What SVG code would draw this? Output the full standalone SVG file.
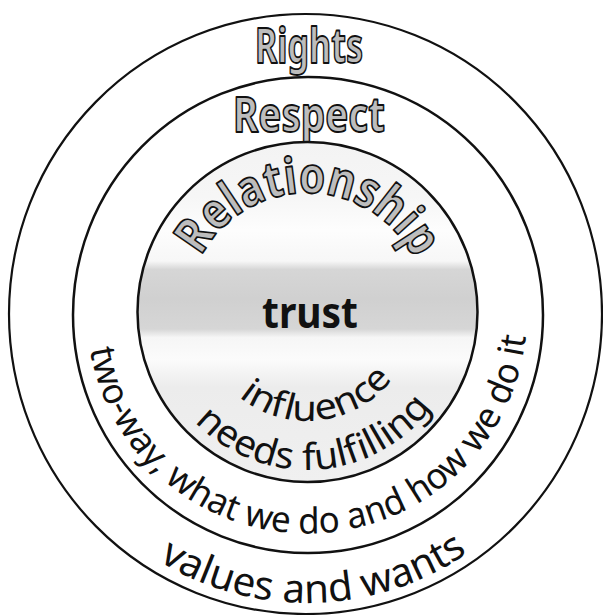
<svg xmlns="http://www.w3.org/2000/svg" width="603" height="615" viewBox="0 0 603 615">
  <style>
    .ring { fill: none; stroke: #111; }
    .hollow { font-family: "Noto Sans", "DejaVu Sans", sans-serif; font-weight: 700; fill: #bdbdbd; stroke: #111; stroke-width: 1.8; stroke-linejoin: round; }
    .label { font-family: "Noto Sans", "DejaVu Sans", sans-serif; fill: #111; }
    .solid { font-family: "Noto Sans", "DejaVu Sans", sans-serif; font-weight: 700; fill: #111; }
  </style>
  <defs>
    <linearGradient id="innerFill" x1="0" y1="0" x2="0" y2="1">
      <stop offset="0" stop-color="#f3f3f3"/>
      <stop offset="0.16" stop-color="#f6f6f6"/>
      <stop offset="0.26" stop-color="#fdfdfd"/>
      <stop offset="0.35" stop-color="#f7f7f7"/>
      <stop offset="0.375" stop-color="#d6d6d6"/>
      <stop offset="0.46" stop-color="#d0d0d0"/>
      <stop offset="0.55" stop-color="#d6d6d6"/>
      <stop offset="0.575" stop-color="#f6f6f6"/>
      <stop offset="0.64" stop-color="#fbfbfb"/>
      <stop offset="0.72" stop-color="#ececec"/>
      <stop offset="1" stop-color="#f0f0f0"/>
    </linearGradient>
    <!-- baselines for the curved labels -->
    <path id="arcRelationship" d="M194.2,272 A120,120 0 0 1 419.8,272"/>
    <path id="arcInfluence" d="M213.5,367 A108,108 0 0 0 400.5,367"/>
    <path id="arcNeeds" d="M172.8,392.5 A155,155 0 0 0 441.2,392.5"/>
    <path id="arcTwoWay" d="M87.8,294.8 A220,220 0 1 0 526.2,294.8"/>
    <path id="arcValues" d="M90.2,501.9 A283,283 0 0 0 523.8,501.9"/>
  </defs>

  <rect width="603" height="615" fill="#ffffff"/>

  <!-- outer ring -->
  <g id="rights">
    <ellipse class="ring" cx="305.5" cy="314" rx="296.5" ry="300" stroke-width="2.2"/>
    <text class="hollow" x="309" y="63" font-size="49" text-anchor="middle" textLength="108" lengthAdjust="spacingAndGlyphs">Rights</text>
    <text class="label" font-size="40">
      <textPath href="#arcValues" startOffset="51.5%" text-anchor="middle" textLength="327" lengthAdjust="spacingAndGlyphs">values and wants</textPath>
    </text>
  </g>

  <!-- middle ring -->
  <g id="respect">
    <ellipse class="ring" cx="308" cy="315" rx="235" ry="238" stroke-width="2.5" fill="#ffffff"/>
    <text class="hollow" x="309" y="132" font-size="49" text-anchor="middle" textLength="152" lengthAdjust="spacingAndGlyphs">Respect</text>
    <text class="label" font-size="36">
      <textPath href="#arcTwoWay" startOffset="50.9%" text-anchor="middle" textLength="632" lengthAdjust="spacingAndGlyphs">two-way, what we do and how we do it</textPath>
    </text>
  </g>

  <!-- inner disc -->
  <g id="relationship">
    <circle cx="307.5" cy="312" r="170" fill="url(#innerFill)" stroke="#111" stroke-width="2.5"/>
    <text class="hollow" font-size="50">
      <textPath href="#arcRelationship" startOffset="50.5%" text-anchor="middle" textLength="262" lengthAdjust="spacingAndGlyphs">Relationship</textPath>
    </text>
    <text class="solid" x="310" y="328" font-size="43" text-anchor="middle" textLength="96" lengthAdjust="spacingAndGlyphs">trust</text>
    <text class="label" font-size="36">
      <textPath href="#arcInfluence" startOffset="55.4%" text-anchor="middle" textLength="172" lengthAdjust="spacingAndGlyphs">influence</textPath>
    </text>
    <text class="label" font-size="37">
      <textPath href="#arcNeeds" startOffset="52.9%" text-anchor="middle" textLength="270" lengthAdjust="spacingAndGlyphs">needs fulfilling</textPath>
    </text>
  </g>
</svg>
